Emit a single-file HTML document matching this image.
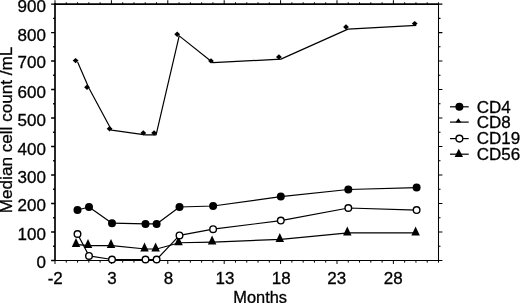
<!DOCTYPE html><html><head><meta charset="utf-8"><title>Chart</title>
<style>html,body{margin:0;padding:0;background:#fff}svg{display:block}text{font-family:"Liberation Sans",Arial,Helvetica,sans-serif;fill:#000;stroke:#000;stroke-width:0.3px}</style></head><body>
<svg width="520" height="303" viewBox="0 0 520 303">
<rect width="520" height="303" fill="#fff"/>
<g stroke="#000" fill="none" stroke-linecap="butt">
<path d="M55.0 3.3V261.05" stroke-width="1.7"/>
<path d="M54.2 4.1H439.0" stroke-width="1.6"/>
<path d="M438.5 3.3V261.05" stroke-width="1.05"/>
<path d="M54.2 260.45H439.0" stroke-width="1.15"/>
<path d="M51.10 4.10H55.0M53.10 18.34H55.0M51.10 32.58H55.0M53.10 46.82H55.0M51.10 61.07H55.0M53.10 75.31H55.0M51.10 89.55H55.0M53.10 103.79H55.0M51.10 118.03H55.0M53.10 132.27H55.0M51.10 146.52H55.0M53.10 160.76H55.0M51.10 175.00H55.0M53.10 189.24H55.0M51.10 203.48H55.0M53.10 217.72H55.0M51.10 231.97H55.0M53.10 246.21H55.0M51.10 260.45H55.0" stroke-width="1.4"/>
<path d="M438.5 4.10H442.40M438.5 18.34H440.50M438.5 32.58H442.40M438.5 46.82H440.50M438.5 61.07H442.40M438.5 75.31H440.50M438.5 89.55H442.40M438.5 103.79H440.50M438.5 118.03H442.40M438.5 132.27H440.50M438.5 146.52H442.40M438.5 160.76H440.50M438.5 175.00H442.40M438.5 189.24H440.50M438.5 203.48H442.40M438.5 217.72H440.50M438.5 231.97H442.40M438.5 246.21H440.50M438.5 260.45H442.40" stroke-width="1.1"/>
<path d="M55.00 4.1V0.20M66.28 4.1V2.30M77.56 4.1V2.30M88.84 4.1V2.30M100.12 4.1V2.30M111.40 4.1V0.20M122.68 4.1V2.30M133.96 4.1V2.30M145.24 4.1V2.30M156.51 4.1V2.30M167.79 4.1V0.20M179.07 4.1V2.30M190.35 4.1V2.30M201.63 4.1V2.30M212.91 4.1V2.30M224.19 4.1V0.20M235.47 4.1V2.30M246.75 4.1V2.30M258.03 4.1V2.30M269.31 4.1V2.30M280.59 4.1V0.20M291.87 4.1V2.30M303.15 4.1V2.30M314.43 4.1V2.30M325.71 4.1V2.30M336.99 4.1V0.20M348.26 4.1V2.30M359.54 4.1V2.30M370.82 4.1V2.30M382.10 4.1V2.30M393.38 4.1V0.20M404.66 4.1V2.30M415.94 4.1V2.30M427.22 4.1V2.30M438.50 4.1V2.30" stroke-width="1.0"/>
<path d="M55.00 260.45V263.95M66.28 260.45V262.65M77.56 260.45V262.65M88.84 260.45V262.65M100.12 260.45V262.65M111.40 260.45V263.95M122.68 260.45V262.65M133.96 260.45V262.65M145.24 260.45V262.65M156.51 260.45V262.65M167.79 260.45V263.95M179.07 260.45V262.65M190.35 260.45V262.65M201.63 260.45V262.65M212.91 260.45V262.65M224.19 260.45V263.95M235.47 260.45V262.65M246.75 260.45V262.65M258.03 260.45V262.65M269.31 260.45V262.65M280.59 260.45V263.95M291.87 260.45V262.65M303.15 260.45V262.65M314.43 260.45V262.65M325.71 260.45V262.65M336.99 260.45V263.95M348.26 260.45V262.65M359.54 260.45V262.65M370.82 260.45V262.65M382.10 260.45V262.65M393.38 260.45V263.95M404.66 260.45V262.65M415.94 260.45V262.65M427.22 260.45V262.65M438.50 260.45V262.65" stroke-width="1.0"/>
</g>
<text x="45.9" y="11.9" font-size="17" text-anchor="end">900</text>
<text x="45.9" y="40.5" font-size="17" text-anchor="end">800</text>
<text x="45.9" y="68.2" font-size="17" text-anchor="end">700</text>
<text x="45.9" y="97.7" font-size="17" text-anchor="end">600</text>
<text x="45.9" y="125.9" font-size="17" text-anchor="end">500</text>
<text x="45.9" y="154.5" font-size="17" text-anchor="end">400</text>
<text x="45.9" y="182.7" font-size="17" text-anchor="end">300</text>
<text x="45.9" y="211.3" font-size="17" text-anchor="end">200</text>
<text x="45.9" y="239.5" font-size="17" text-anchor="end">100</text>
<text x="45.9" y="268.0" font-size="17" text-anchor="end">0</text>
<text x="55.2" y="284.4" font-size="17" text-anchor="middle">-2</text>
<text x="112.1" y="284.4" font-size="17" text-anchor="middle">3</text>
<text x="168.5" y="284.4" font-size="17" text-anchor="middle">8</text>
<text x="224.9" y="284.4" font-size="17" text-anchor="middle">13</text>
<text x="281.3" y="284.4" font-size="17" text-anchor="middle">18</text>
<text x="336.8" y="284.4" font-size="17" text-anchor="middle">23</text>
<text x="393.2" y="284.4" font-size="17" text-anchor="middle">28</text>
<text x="260.2" y="303.2" font-size="16.4" text-anchor="middle">Months</text>
<text transform="translate(11.9,213.2) rotate(-90)" font-size="17" textLength="166.5" lengthAdjust="spacingAndGlyphs">Median cell count /mL</text>
<polyline points="77.60,62.00 89.00,88.20 111.60,130.20 145.30,134.90 156.10,134.90 179.20,35.90 213.00,62.70 280.90,59.10 348.00,29.10 416.30,25.30" fill="none" stroke="#000" stroke-width="1.2" stroke-linejoin="round"/>
<path d="M72.70 60.60L75.60 57.90L78.50 60.60L75.60 63.30Z" fill="#000"/>
<path d="M84.10 87.20L87.00 84.50L89.90 87.20L87.00 89.90Z" fill="#000"/>
<path d="M106.70 128.70L109.60 126.00L112.50 128.70L109.60 131.40Z" fill="#000"/>
<path d="M140.40 132.90L143.30 130.20L146.20 132.90L143.30 135.60Z" fill="#000"/>
<path d="M151.20 132.90L154.10 130.20L157.00 132.90L154.10 135.60Z" fill="#000"/>
<path d="M174.30 34.20L177.20 31.50L180.10 34.20L177.20 36.90Z" fill="#000"/>
<path d="M208.10 60.90L211.00 58.20L213.90 60.90L211.00 63.60Z" fill="#000"/>
<path d="M276.00 57.00L278.90 54.30L281.80 57.00L278.90 59.70Z" fill="#000"/>
<path d="M343.10 27.00L346.00 24.30L348.90 27.00L346.00 29.70Z" fill="#000"/>
<path d="M411.80 23.60L414.70 20.90L417.60 23.60L414.70 26.30Z" fill="#000"/>
<polyline points="77.50,244.60 89.00,245.60 112.00,245.60 145.50,249.00 156.60,249.00 179.50,242.75 213.10,242.10 280.80,239.40 348.30,232.90 416.60,232.90" fill="none" stroke="#000" stroke-width="1.2" stroke-linejoin="round"/>
<path d="M71.75 247.10L76.00 238.10L80.25 247.10Z" fill="#000"/>
<path d="M83.75 248.10L88.00 239.10L92.25 248.10Z" fill="#000"/>
<path d="M106.75 248.10L111.00 239.10L115.25 248.10Z" fill="#000"/>
<path d="M140.25 251.50L144.50 242.50L148.75 251.50Z" fill="#000"/>
<path d="M151.35 251.50L155.60 242.50L159.85 251.50Z" fill="#000"/>
<path d="M174.25 245.25L178.50 236.25L182.75 245.25Z" fill="#000"/>
<path d="M207.85 244.60L212.10 235.60L216.35 244.60Z" fill="#000"/>
<path d="M275.55 241.90L279.80 232.90L284.05 241.90Z" fill="#000"/>
<path d="M343.05 235.40L347.30 226.40L351.55 235.40Z" fill="#000"/>
<path d="M411.35 235.40L415.60 226.40L419.85 235.40Z" fill="#000"/>
<polyline points="77.50,210.00 89.00,207.00 112.00,223.20 145.50,223.90 156.60,223.90 179.50,207.00 213.10,206.00 280.80,196.60 348.30,189.50 416.60,187.60" fill="none" stroke="#000" stroke-width="1.2" stroke-linejoin="round"/>
<circle cx="77.5" cy="210.0" r="4.0" fill="#000"/>
<circle cx="89.0" cy="207.0" r="4.0" fill="#000"/>
<circle cx="112.0" cy="223.2" r="4.0" fill="#000"/>
<circle cx="145.5" cy="223.9" r="4.0" fill="#000"/>
<circle cx="156.6" cy="223.9" r="4.0" fill="#000"/>
<circle cx="179.5" cy="207.0" r="4.0" fill="#000"/>
<circle cx="213.1" cy="206.0" r="4.0" fill="#000"/>
<circle cx="280.8" cy="196.6" r="4.0" fill="#000"/>
<circle cx="348.3" cy="189.5" r="4.0" fill="#000"/>
<circle cx="416.6" cy="187.6" r="4.0" fill="#000"/>
<polyline points="77.50,234.00 89.00,255.90 112.00,259.50 145.50,259.50 156.60,259.50 179.50,235.40 213.10,229.20 280.80,220.60 348.30,208.00 416.60,210.10" fill="none" stroke="#000" stroke-width="1.2" stroke-linejoin="round"/>
<circle cx="77.5" cy="234.0" r="3.3" fill="#fff" stroke="#000" stroke-width="1.4"/>
<circle cx="89.0" cy="255.9" r="3.3" fill="#fff" stroke="#000" stroke-width="1.4"/>
<circle cx="112.0" cy="259.5" r="3.3" fill="#fff" stroke="#000" stroke-width="1.4"/>
<circle cx="145.5" cy="259.5" r="3.3" fill="#fff" stroke="#000" stroke-width="1.4"/>
<circle cx="156.6" cy="259.5" r="3.3" fill="#fff" stroke="#000" stroke-width="1.4"/>
<circle cx="179.5" cy="235.4" r="3.3" fill="#fff" stroke="#000" stroke-width="1.4"/>
<circle cx="213.1" cy="229.2" r="3.3" fill="#fff" stroke="#000" stroke-width="1.4"/>
<circle cx="280.8" cy="220.6" r="3.3" fill="#fff" stroke="#000" stroke-width="1.4"/>
<circle cx="348.3" cy="208.0" r="3.3" fill="#fff" stroke="#000" stroke-width="1.4"/>
<circle cx="416.6" cy="210.1" r="3.3" fill="#fff" stroke="#000" stroke-width="1.4"/>
<path d="M450 106.8H468.7" stroke="#000" stroke-width="1.2"/>
<path d="M450 122.1H468.7" stroke="#000" stroke-width="1.2"/>
<path d="M450 138.6H468.7" stroke="#000" stroke-width="1.2"/>
<path d="M450 154.2H468.7" stroke="#000" stroke-width="1.2"/>
<circle cx="459.4" cy="106.8" r="4.0" fill="#000"/>
<path d="M455.4 122.39999999999999L458.4 118.2L461.4 122.39999999999999Z" fill="#000"/>
<circle cx="459.4" cy="138.6" r="3.4" fill="#fff" stroke="#000" stroke-width="1.4"/>
<path d="M454.6 157.0L458.8 148.8L463.0 157.0Z" fill="#000"/>
<text x="476.7" y="112.5" font-size="17">CD4</text>
<text x="476.7" y="128.2" font-size="17">CD8</text>
<text x="476.7" y="144.0" font-size="17">CD19</text>
<text x="476.7" y="159.8" font-size="17">CD56</text>
</svg></body></html>
